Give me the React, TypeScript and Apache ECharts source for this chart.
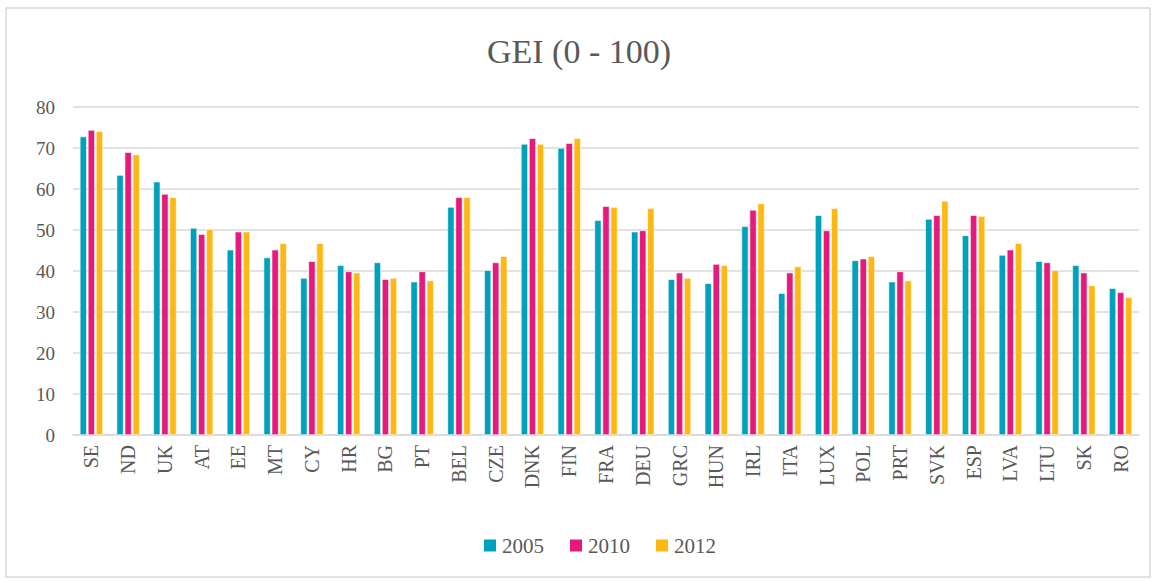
import React, { useEffect, useRef } from "react";
import * as echarts from "echarts";

const categories = ["SE","ND","UK","AT","EE","MT","CY","HR","BG","PT","BEL","CZE","DNK","FIN","FRA","DEU","GRC","HUN","IRL","ITA","LUX","POL","PRT","SVK","ESP","LVA","LTU","SK","RO"];
const v2005 = [72.8,63.4,61.8,50.5,45.2,43.3,38.3,41.4,42.1,37.4,55.6,40.2,71.0,70.0,52.4,49.6,38.0,37.0,50.9,34.6,53.6,42.6,37.4,52.7,48.7,43.9,42.4,41.4,35.8];
const v2010 = [74.4,69.0,58.8,49.0,49.6,45.2,42.4,39.9,38.0,39.9,58.0,42.1,72.4,71.2,55.8,49.9,39.6,41.7,54.9,39.6,49.9,43.0,39.9,53.6,53.6,45.2,42.1,39.6,34.8];
const v2012 = [74.1,68.4,58.0,50.2,49.6,46.8,46.8,39.6,38.3,37.7,58.0,43.6,71.0,72.4,55.6,55.3,38.3,41.4,56.5,41.1,55.3,43.6,37.7,57.1,53.4,46.8,40.2,36.5,33.6];
const seriesNames = ["2005","2010","2012"];
const colors = ["#00A1BA","#E6197D","#FDB813"];
const titleText = "GEI (0 - 100)";

export default function App() {
  const ref = useRef<HTMLDivElement>(null);
  useEffect(() => {
    const chart = echarts.init(ref.current!, null, { renderer: "svg" });
    const font = "'Liberation Serif', 'DejaVu Serif', serif";
    const data = [v2005, v2010, v2012];
    chart.setOption({
      animation: false,
      textStyle: { fontFamily: font },
      title: {
        text: titleText,
        left: "center",
        top: 29,
        textStyle: { fontFamily: font, fontSize: 34, fontWeight: "normal", color: "#595959" },
      },
      graphic: [
        {
          type: "rect",
          shape: { x: 6, y: 8, width: 1144, height: 569 },
          style: { fill: "none", stroke: "#d9d9d9", lineWidth: 1.5 },
          silent: true,
        },
      ],
      legend: {
        bottom: 20,
        left: 477,
        itemWidth: 14,
        itemHeight: 14,
        itemGap: 24,
        icon: "rect",
        textStyle: { fontFamily: font, fontSize: 21, color: "#595959" },
        data: seriesNames,
      },
      grid: { left: 73, right: 19, top: 107, bottom: 146, containLabel: false },
      xAxis: {
        type: "category",
        data: categories,
        axisLine: { lineStyle: { color: "#d9d9d9", width: 1.5 } },
        axisTick: { show: false },
        axisLabel: { rotate: 90, fontFamily: font, fontSize: 20, color: "#595959", margin: 10 },
      },
      yAxis: {
        type: "value",
        min: 0,
        max: 80,
        interval: 10,
        axisLine: { show: false },
        axisTick: { show: false },
        axisLabel: { fontFamily: font, fontSize: 19, color: "#595959", margin: 18 },
        splitLine: { lineStyle: { color: "#d9d9d9", width: 1.5 } },
      },
      series: seriesNames.map((name, i) => ({
        name,
        type: "bar",
        data: data[i],
        barWidth: 7,
        barGap: "15%",
        itemStyle: { color: colors[i], borderColor: "#ffffff", borderWidth: 0.6 },
      })),
    });
    return () => chart.dispose();
  }, []);
  return (
    <div
      ref={ref}
      style={{ position: "absolute", left: 0, top: 0, width: 1158, height: 581, background: "#fff" }}
    />
  );
}
